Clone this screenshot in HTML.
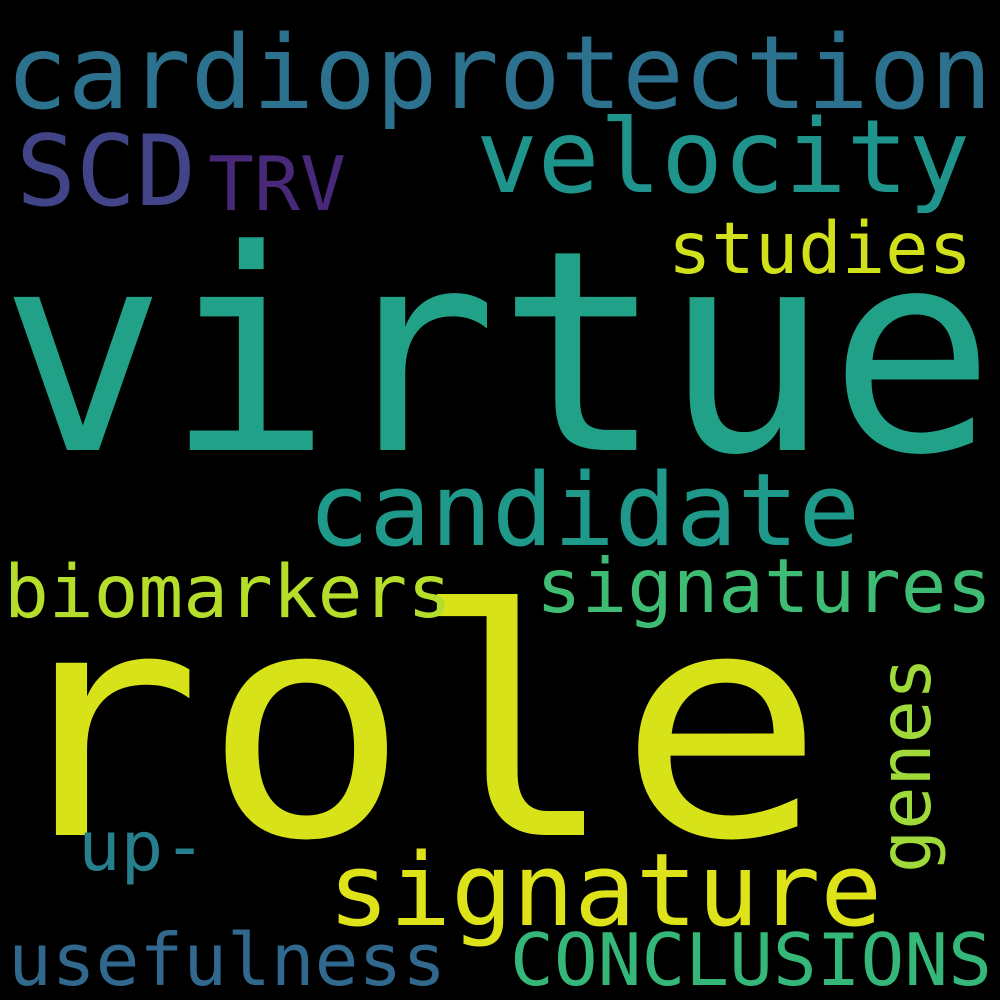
<!DOCTYPE html>
<html><head><meta charset="utf-8"><style>
html,body{margin:0;padding:0;background:#000;}
svg{display:block}
text{font-family:"DejaVu Sans Mono","Liberation Mono",monospace;}
</style></head><body>
<svg width="1000" height="1000" viewBox="0 0 1000 1000">
<rect width="1000" height="1000" fill="#000"/>
<text x="0" y="450" font-size="280" fill="#21a187" textLength="995" lengthAdjust="spacingAndGlyphs">virtue</text>
<text x="-5" y="835" font-size="315" fill="#d8e219" textLength="830" lengthAdjust="spacingAndGlyphs">role</text>
<text x="6" y="108" font-size="102" fill="#2c728e" textLength="986" lengthAdjust="spacingAndGlyphs">cardioprotection</text>
<text x="16" y="205" font-size="98" fill="#414487" textLength="180" lengthAdjust="spacingAndGlyphs">SCD</text>
<text x="208" y="210" font-size="75" fill="#482878" textLength="138" lengthAdjust="spacingAndGlyphs">TRV</text>
<text x="476" y="192" font-size="102" fill="#1f948c" textLength="494" lengthAdjust="spacingAndGlyphs">velocity</text>
<text x="668" y="273" font-size="71" fill="#d0e11c" textLength="304" lengthAdjust="spacingAndGlyphs">studies</text>
<text x="308" y="545" font-size="101" fill="#1f9a8a" textLength="552" lengthAdjust="spacingAndGlyphs">candidate</text>
<text x="4" y="617" font-size="73" fill="#b5de2b" textLength="448" lengthAdjust="spacingAndGlyphs">biomarkers</text>
<text x="536" y="612" font-size="75" fill="#3fbc73" textLength="456" lengthAdjust="spacingAndGlyphs">signatures</text>
<text transform="translate(930,873) rotate(-90)" font-size="71" fill="#9fda3a" textLength="216" lengthAdjust="spacingAndGlyphs">genes</text>
<text x="78" y="870" font-size="69" fill="#277f8e" textLength="128" lengthAdjust="spacingAndGlyphs">up-</text>
<text x="328" y="925" font-size="101" fill="#dde318" textLength="554" lengthAdjust="spacingAndGlyphs">signature</text>
<text x="8" y="985" font-size="72" fill="#31688e" textLength="438" lengthAdjust="spacingAndGlyphs">usefulness</text>
<text x="510" y="985" font-size="72" fill="#35b779" textLength="482" lengthAdjust="spacingAndGlyphs">CONCLUSIONS</text>
</svg>
</body></html>
